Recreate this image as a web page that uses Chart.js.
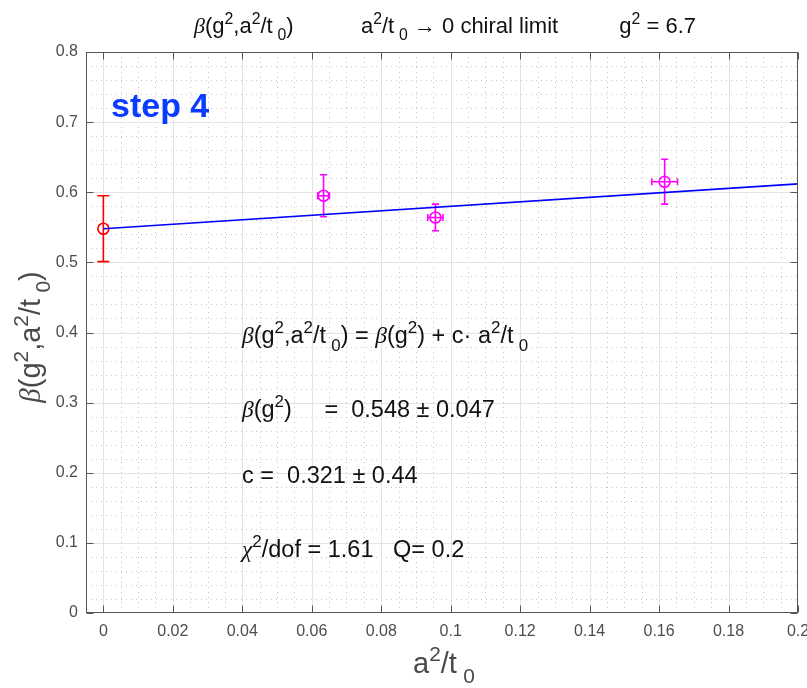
<!DOCTYPE html>
<html><head><meta charset="utf-8">
<script src="https://cdn.jsdelivr.net/npm/chart.js@4.4.1/dist/chart.umd.min.js"></script>
<style>html,body{margin:0;padding:0;background:#fff}#wrap{width:807px;height:688px}</style>
</head><body><div id="wrap"><canvas id="c" width="807" height="688"></canvas></div>
<script>
// ---- data ----
const xVals = [0, 0.0634, 0.0956, 0.1616];
const yVals = [0.548, 0.595, 0.564, 0.615];
const yErr  = [0.047, 0.030, 0.019, 0.032];
const xErr  = [0, 0.0017, 0.0022, 0.0037];
const pointColors = ['#ff0000', '#ff00ff', '#ff00ff', '#ff00ff'];
const fitX = [0, 0.2];
const fitY = [0.548, 0.612];
const xTicks = [0, 0.02, 0.04, 0.06, 0.08, 0.1, 0.12, 0.14, 0.16, 0.18, 0.2];
const yTicks = [0, 0.1, 0.2, 0.3, 0.4, 0.5, 0.6, 0.7, 0.8];
const xMinorStep = 0.005, yMinorStep = 0.02;
const xRange = [-0.005, 0.2], yRange = [0, 0.8];

const titleText = 'β(g^2,a^2/t_0)           a^2/t_0 → 0 chiral limit          g^2 = 6.7';
const annot = [
  'β(g^2,a^2/t_0) = β(g^2) + c· a^2/t_0',
  'β(g^2)     =  0.548 ± 0.047',
  'c =  0.321 ± 0.44',
  'χ^2/dof = 1.61   Q= 0.2'
];

// ---- rich text helper (TeX-like ^ and _) ----
function parseTex(s){
  const out=[]; let buf=''; let i=0;
  const push=(t,m)=>{ if(t) out.push({t,m}); };
  while(i<s.length){
    const c=s[i];
    if(c==='^'||c==='_'){
      push(buf,'n'); buf='';
      let arg;
      if(s[i+1]==='{'){ const j=s.indexOf('}',i); arg=s.slice(i+2,j); i=j+1; }
      else { arg=s[i+1]; i+=2; }
      push(arg, c==='^'?'sup':'sub');
    } else { buf+=c; i++; }
  }
  push(buf,'n');
  return out;
}
const GREEK=/[βχ]/;
function fontFor(ch, sz, weight){
  if(GREEK.test(ch)) return `italic ${sz}px "Liberation Serif", serif`;
  return `${weight} ${sz}px "Liberation Sans", Arial, sans-serif`;
}
function layoutRich(ctx, s, size, weight){
  const segs=parseTex(s); const runs=[]; let x=0;
  for(const sg of segs){
    let sz=size, dy=0;
    if(sg.m==='sup'){ sz=size*0.72; dy=-size*0.42; }
    if(sg.m==='sub'){ sz=size*0.72; dy=size*0.34; x+=size*0.22; }
    for(const ch of sg.t){
      const f=fontFor(ch, sz, weight);
      ctx.font=f;
      const w=ctx.measureText(ch).width;
      runs.push({ch,f,x,dy});
      x+=w;
    }
  }
  return {runs,width:x};
}
function drawRich(ctx, s, x, y, size, opts={}){
  const weight=opts.weight||'normal';
  ctx.save();
  const L=layoutRich(ctx,s,size,weight);
  let x0=x;
  if(opts.align==='center') x0=x-L.width/2;
  ctx.fillStyle=opts.color||'#000';
  ctx.textBaseline='alphabetic'; ctx.textAlign='left';
  for(const r of L.runs){ ctx.font=r.f; ctx.fillText(r.ch, x0+r.x, y+r.dy); }
  ctx.restore();
}

// ---- plugins ----
const gridPlugin = {
  id:'matlabGrid',
  beforeDatasetsDraw(chart){
    const {ctx, chartArea:a, scales:{x,y}} = chart;
    ctx.save();
    ctx.beginPath(); ctx.rect(a.left,a.top,a.right-a.left,a.bottom-a.top); ctx.clip();
    // minor dotted
    ctx.strokeStyle='#c4c4c4'; ctx.lineWidth=1; ctx.setLineDash([1,4]);
    const nx=Math.round((xRange[1]-xRange[0])/xMinorStep);
    for(let k=0;k<=nx;k++){ const v=xRange[0]+k*xMinorStep; const px=Math.round(x.getPixelForValue(v))+0.5;
      ctx.beginPath(); ctx.moveTo(px,a.bottom); ctx.lineTo(px,a.top); ctx.stroke(); }
    const ny=Math.round((yRange[1]-yRange[0])/yMinorStep);
    for(let k=0;k<=ny;k++){ const v=yRange[0]+k*yMinorStep; const py=Math.round(y.getPixelForValue(v))+0.5;
      ctx.beginPath(); ctx.moveTo(a.left,py); ctx.lineTo(a.right,py); ctx.stroke(); }
    // major solid
    ctx.setLineDash([]); ctx.strokeStyle='#e3e3e3'; ctx.lineWidth=1;
    for(const v of xTicks){ const px=Math.round(x.getPixelForValue(v))+0.5;
      ctx.beginPath(); ctx.moveTo(px,a.bottom); ctx.lineTo(px,a.top); ctx.stroke(); }
    for(const v of yTicks){ const py=Math.round(y.getPixelForValue(v))+0.5;
      ctx.beginPath(); ctx.moveTo(a.left,py); ctx.lineTo(a.right,py); ctx.stroke(); }
    ctx.restore();
    // error bars
    ctx.save(); ctx.lineWidth=1.6;
    for(let i=0;i<xVals.length;i++){
      ctx.strokeStyle=pointColors[i];
      const px=x.getPixelForValue(xVals[i]), py=y.getPixelForValue(yVals[i]);
      const pt=y.getPixelForValue(yVals[i]+yErr[i]), pb=y.getPixelForValue(yVals[i]-yErr[i]);
      const cap = i===0 ? 6 : 3.5;
      ctx.beginPath();
      ctx.moveTo(px,pt); ctx.lineTo(px,pb);
      ctx.moveTo(px-cap,pt); ctx.lineTo(px+cap,pt);
      ctx.moveTo(px-cap,pb); ctx.lineTo(px+cap,pb);
      if(xErr[i]>0){
        const pl=x.getPixelForValue(xVals[i]-xErr[i]), pr=x.getPixelForValue(xVals[i]+xErr[i]);
        ctx.moveTo(pl,py); ctx.lineTo(pr,py);
        ctx.moveTo(pl,py-3.5); ctx.lineTo(pl,py+3.5);
        ctx.moveTo(pr,py-3.5); ctx.lineTo(pr,py+3.5);
      }
      ctx.stroke();
    }
    ctx.restore();
  },
  afterDraw(chart){
    const {ctx, chartArea:a, scales:{x,y}} = chart;
    ctx.save();
    // axes box
    const L=Math.round(a.left)+0.5, R=Math.round(a.right)-0.5, T=Math.round(a.top)+0.5, B=Math.round(a.bottom)-0.5;
    ctx.strokeStyle='#555'; ctx.lineWidth=1;
    ctx.strokeRect(L,T,R-L,B-T);
    // inward ticks
    const tl=7;
    ctx.beginPath();
    for(const v of xTicks){ const px=Math.round(x.getPixelForValue(v))+0.5;
      ctx.moveTo(px,B); ctx.lineTo(px,B-tl); ctx.moveTo(px,T); ctx.lineTo(px,T+tl); }
    for(const v of yTicks){ const py=Math.round(y.getPixelForValue(v))+0.5;
      ctx.moveTo(L,py); ctx.lineTo(L+tl,py); ctx.moveTo(R,py); ctx.lineTo(R-tl,py); }
    ctx.stroke();
    ctx.restore();
    // title
    drawRich(ctx, titleText, 445, 33, 22, {align:'center', color:'#111'});
    // step 4
    drawRich(ctx, 'step 4', 111, 117, 34, {weight:'bold', color:'#0a3cff'});
    // annotations
    const ay=[343, 417, 483, 557];
    annot.forEach((t,i)=>drawRich(ctx, t, 242, ay[i], 23.5, {color:'#111'}));
    // x label
    drawRich(ctx, 'a^2/t_0', 444, 673, 29, {align:'center', color:'#4a4a4a'});
    // y label
    ctx.save(); ctx.translate(40, 337); ctx.rotate(-Math.PI/2);
    drawRich(ctx, 'β(g^2,a^2/t_0)', 0, 0, 29, {align:'center', color:'#4a4a4a'});
    ctx.restore();
  }
};

const fmt = v => String(Math.round(v*1000)/1000);

new Chart(document.getElementById('c'), {
  type:'scatter',
  data:{ datasets:[
    { type:'line', label:'fit', data: fitX.map((v,i)=>({x:v,y:fitY[i]})),
      borderColor:'#0000ff', borderWidth:1.6, pointRadius:0, fill:false, tension:0 },
    { label:'data', data: xVals.map((v,i)=>({x:v,y:yVals[i]})),
      pointStyle:'circle', pointRadius:5.5, pointBorderWidth:1.6,
      pointBorderColor: pointColors, pointBackgroundColor:'rgba(0,0,0,0)', pointHoverRadius:5.5 }
  ]},
  options:{
    responsive:false, animation:false, devicePixelRatio:1,
    layout:{ padding:{ left:0, right:9, top:52, bottom:0 } },
    plugins:{ legend:{display:false}, tooltip:{enabled:false}, title:{display:false} },
    scales:{
      x:{ type:'linear', min:xRange[0], max:xRange[1],
        afterBuildTicks: s => { s.ticks = xTicks.map(v=>({value:v})); },
        afterFit: s => { s.height = 75; s.paddingLeft = 0; s.paddingRight = 0; },
        grid:{ display:true, drawOnChartArea:false, drawTicks:false, color:'rgba(0,0,0,0)' },
        border:{ display:false },
        ticks:{ padding:9, color:'#4d4d4d', font:{ family:'"Liberation Sans", Arial, sans-serif', size:16 },
          callback: v => fmt(v), maxRotation:0, autoSkip:false }
      },
      y:{ type:'linear', min:yRange[0], max:yRange[1],
        afterBuildTicks: s => { s.ticks = yTicks.map(v=>({value:v})); },
        afterFit: s => { s.width = 86; s.paddingTop = 0; s.paddingBottom = 0; },
        grid:{ display:true, drawOnChartArea:false, drawTicks:false, color:'rgba(0,0,0,0)' },
        border:{ display:false },
        ticks:{ padding:8, color:'#4d4d4d', font:{ family:'"Liberation Sans", Arial, sans-serif', size:16 },
          callback: v => fmt(v), autoSkip:false }
      }
    }
  },
  plugins:[gridPlugin]
});
</script></body></html>
